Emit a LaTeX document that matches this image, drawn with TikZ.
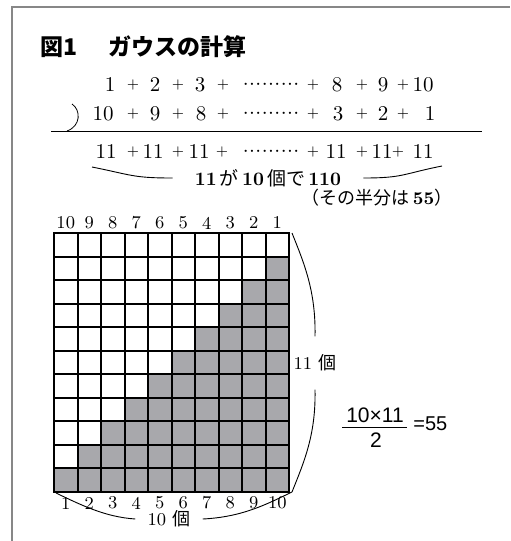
\documentclass[tikz,border=0pt]{standalone}
\usepackage{fontspec}
\newfontfamily\jp{Noto Sans CJK JP}
\newfontfamily\lsans{Liberation Sans}
\definecolor{cellgray}{RGB}{168,168,172}
\definecolor{framegray}{RGB}{135,135,135}
% small plus and dotted run used in the sums
\newcommand\pl{\raisebox{1.2pt}{\fontsize{7}{8}\selectfont +}}
\newcommand\dd{\makebox[28.5pt]{\xleaders\hbox to 3.16pt{\hss\textperiodcentered\hss}\hfill}}

\begin{document}
\begin{tikzpicture}[x=0.5pt, y=-0.5pt, every node/.style={inner sep=0pt}]
\tikzset{
  titletext/.style={font={\jp\bfseries\fontsize{11.5}{13}\selectfont}, anchor=west},
  sumtext/.style={font=\fontsize{10.5}{12}\selectfont, anchor=base},
  boldtext/.style={font={\bfseries\fontsize{9.5}{11}\selectfont}},
  numlab/.style={font=\fontsize{9}{10}\selectfont},
  formula/.style={font={\lsans\fontsize{10.5}{12}\selectfont}},
  gridline/.style={line width=1pt, line cap=rect},
  brace/.style={line width=0.45pt}
}
\useasboundingbox (0,0) rectangle (510,541);
\draw[framegray, line width=0.8pt] (12,541) -- (12,7) -- (510,7);

% title
\node[titletext] (fig) at (40,47) {図1};
\node[titletext] (title) at (108,47) {ガウスの計算};

% the two sums and their total
\foreach \x/\t [count=\i] in {110/1,133/\pl,155/2,178/\pl,200/3,223/\pl,271/\dd,313/\pl,337/8,362/\pl,383/9,403/\pl,423/10}
  \node[sumtext] (a\i) at (\x,91) {\t};
\foreach \x/\t [count=\i] in {103/10,133/\pl,155/9,178/\pl,201/8,223/\pl,271/\dd,313/\pl,338/3,362/\pl,383/2,403/\pl,430/1}
  \node[sumtext] (b\i) at (\x,120) {\t};
\foreach \x/\t [count=\i] in {106/11,133/\pl,153/11,178/\pl,199/11,222/\pl,271/\dd,313/\pl,336/11,362/\pl,382/11,398/\pl,423/11}
  \node[sumtext] (s\i) at (\x,158) {\t};
\draw (72,104) .. controls (81,110) and (81,126) .. (67,131);
\draw (51,131) -- (482,131);

\coordinate (bl) at (92,167);
\coordinate (br) at (442,166);
\node[boldtext, inner xsep=11pt] (sum) at (268,178) {11\,{\jp\mdseries が}\,10\,{\jp\mdseries 個で}\,110};
\node[boldtext, font={\bfseries\fontsize{9}{10}\selectfont}] (half) at (377,198) {{\jp\mdseries （その半分は}\,55{\jp\mdseries ）}};
\draw[brace] (bl) .. controls +(40,8) and +(-40,0) .. (sum.west);
\draw[brace] (sum.east) .. controls +(40,0) and +(-40,8) .. (br);

% 10 x 11 grid, gray staircase
\begin{scope}[shift={(54,233)}]
  \foreach \r in {1,...,10}
    \fill[cellgray] ({23.5*(10-\r)},{23.5*\r}) rectangle (235,{23.5*(\r+1)});
  \foreach \c in {0,...,10}
    \draw[gridline] ({23.5*\c},0) -- ({23.5*\c},258.5);
  \foreach \r in {0,...,11}
    \draw[gridline] (0,{23.5*\r}) -- (235,{23.5*\r});
  \coordinate (gne) at (238,0);
  \coordinate (gsw) at (2,260);
  \coordinate (gse) at (238,259);
\end{scope}
\foreach \c in {0,...,9}{
  \pgfmathtruncatemacro\n{10-\c}
  \pgfmathtruncatemacro\m{\c+1}
  \node[numlab] (t\c) at ({65.75+23.5*\c},223) {\n};
  \node[numlab] (u\c) at ({65.75+23.5*\c},503) {\m};
}

\node[numlab, inner xsep=6pt] (ten) at (169,519) {10\ {\jp 個}};
\draw[brace] (gsw) .. controls +(25,12) and +(-30,-2) .. (ten.west);
\draw[brace] (ten.east) .. controls +(40,-2) and +(-25,12) .. (gse);

\node[numlab, inner ysep=9pt] (elf) at (315,363) {11\ {\jp 個}};
\draw[brace] (gne) .. controls +(12,30) and +(1,-45) .. (elf.north);
\draw[brace] (elf.south) .. controls +(1,45) and +(12,-30) .. (gse);

% n(n+1)/2
\node[formula] (num) at (375,415) {10×11};
\node[formula] (den) at (376,440) {2};
\node[formula, font={\lsans\fontsize{10}{12}\selectfont}, anchor=west] (eq) at (413,424) {=55};
\draw[brace] (342,427) -- (407,427);
\end{tikzpicture}
\end{document}
